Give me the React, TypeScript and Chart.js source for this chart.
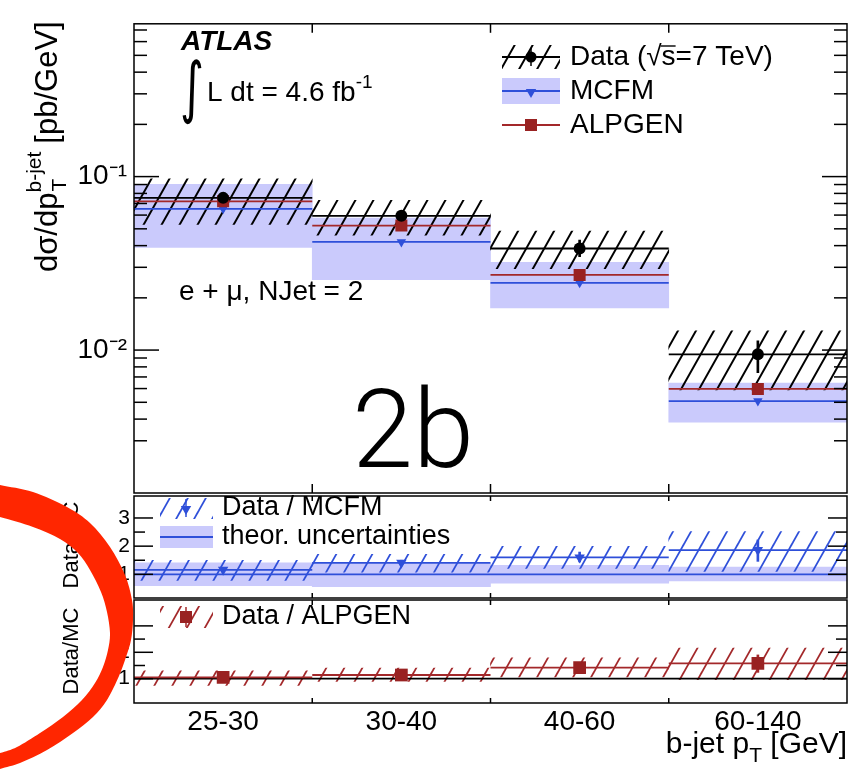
import React, { useEffect, useRef } from 'react';
import { Chart, registerables } from 'chart.js';
Chart.register(...registerables);

const FONT = '"Liberation Sans", Arial, Helvetica, sans-serif';
Chart.defaults.font.family = FONT;
Chart.defaults.color = '#000';

// ---------- data ----------
const categories = ['25-30', '30-40', '40-60', '60-140'];
const binCenters = [0.5, 1.5, 2.5, 3.5];
const binEdgesInner = [1, 2, 3];

// main panel: dσ/dpT [pb/GeV]
const dataCentral = [0.0754, 0.0594, 0.0385, 0.00945];
const dataStatLow = [0.071, 0.056, 0.0345, 0.0074];
const dataStatHigh = [0.08, 0.063, 0.043, 0.0113];
const dataSystLow = [0.053, 0.046, 0.0295, 0.0059];
const dataSystHigh = [0.097, 0.073, 0.0485, 0.0129];
const mcfmCentral = [0.0652, 0.042, 0.0244, 0.00508];
const mcfmLow = [0.039, 0.0255, 0.0175, 0.00384];
const mcfmHigh = [0.0901, 0.0577, 0.0321, 0.00646];
const alpgenCentral = [0.072, 0.0522, 0.0271, 0.00597];

// Data / MCFM panel
const rMcfm = [1.16, 1.41, 1.6, 1.86];
const rMcfmStatLow = [1.1, 1.33, 1.44, 1.46];
const rMcfmStatHigh = [1.24, 1.5, 1.79, 2.22];
const rMcfmSystLow = [0.78, 1.08, 1.21, 1.1];
const rMcfmSystHigh = [1.5, 1.71, 1.99, 2.52];
const theoCentral = [1, 1, 1, 1];
const theoLow = [0.6, 0.56, 0.69, 0.77];
const theoHigh = [1.41, 1.38, 1.32, 1.26];

// Data / ALPGEN panel
const rAlp = [1.05, 1.14, 1.42, 1.58];
const rAlpStatLow = [1.0, 1.08, 1.27, 1.24];
const rAlpStatHigh = [1.1, 1.21, 1.58, 1.9];
const rAlpSystLow = [0.75, 0.9, 1.07, 0.96];
const rAlpSystHigh = [1.3, 1.4, 1.79, 2.16];
const alpRef = [1, 1, 1, 1];

// tick labels
const mainTickValues = [0.01, 0.1];
const mainTickLabels = ['10⁻²', '10⁻¹'];
const ratioTickValues = [1, 2, 3];
const ratioTickLabels = ['1', '2', '3'];

// hand-drawn red ring annotation outline
const ringOuter: [number, number][] = [[-20, 480], [0, 485], [33, 492], [67, 507], [90, 523], [110, 547], [125, 575], [132, 600], [133, 620], [131, 640], [126, 657], [119, 676], [107, 700], [93, 717], [73, 733], [47, 750], [20, 763], [0, 769], [-20, 776]];
const ringInner: [number, number][] = [[-20, 757], [0, 753], [17, 747], [40, 733], [63, 717], [82, 700], [95, 683], [103, 667], [108, 650], [110, 633], [107, 612], [101, 592], [90, 570], [78, 553], [60, 539], [33, 527], [0, 517], [-20, 514]];

// ---------- styling ----------
const BLUE = '#2e4fd9';
const BAND = 'rgb(202,202,252)';
const RED = '#a3282a';
const REDMARK = '#992222';
const RING = 'rgb(255,38,0)';

function makeHatch(ctx: CanvasRenderingContext2D, color: string, lw: number) {
  const w = 18, h = 32;
  const c = document.createElement('canvas');
  c.width = w; c.height = h;
  const g = c.getContext('2d')!;
  g.strokeStyle = color; g.lineWidth = lw;
  for (let k = -1; k <= 1; k++) {
    g.beginPath(); g.moveTo(k * w - w, 2 * h); g.lineTo(k * w + 2 * w, -h); g.stroke();
  }
  return ctx.createPattern(c, 'repeat')!;
}

const band = (lo: number[], hi: number[]) => binCenters.map((x, i) => ({ x, y: [lo[i], hi[i]] }));
const steps = (v: number[]) => v.flatMap((y, i) => [{ x: i, y }, { x: i + 1, y }, { x: i + 1, y: null }]);
const pts = (v: number[]) => binCenters.map((x, i) => ({ x, y: v[i] }));

const bandDs = (lo: number[], hi: number[], bg: any, order: number) => ({
  type: 'bar', data: band(lo, hi), backgroundColor: bg, borderWidth: 0, grouped: false,
  barPercentage: 1, categoryPercentage: 1, order,
});
const errDs = (lo: number[], hi: number[], color: string, order: number) => ({
  type: 'bar', data: band(lo, hi), backgroundColor: color, borderWidth: 0, grouped: false,
  maxBarThickness: 2, barPercentage: 1, categoryPercentage: 1, order,
});
const lineDs = (v: number[], color: string, width: number, order: number) => ({
  type: 'line', data: steps(v), borderColor: color, borderWidth: width, pointRadius: 0,
  spanGaps: false, tension: 0, fill: false, order,
});
const markDs = (v: number[], style: string, color: string, radius: number, rotation: number, order: number) => ({
  type: 'line', data: pts(v), showLine: false, pointStyle: style, pointRadius: radius,
  pointBackgroundColor: color, pointBorderColor: color, pointBorderWidth: 0, pointRotation: rotation, order,
});

const xScale = (showLabels: boolean) => ({
  type: 'linear', min: 0, max: 4, offset: false,
  afterBuildTicks: (s: any) => { s.ticks = binCenters.map((v) => ({ value: v })); },
  ticks: {
    display: showLabels, autoSkip: false, maxRotation: 0, padding: 2, color: '#000',
    font: { size: 28, family: FONT },
    callback: (v: any) => categories[binCenters.indexOf(Number(v))] ?? '',
  },
  grid: { display: false, drawTicks: false },
  border: { display: false },
  afterFit: (s: any) => { s.height = showLabels ? 66 : 0; },
});

function tickLabel(values: number[], labels: string[]) {
  return (v: any) => {
    const n = Number(v);
    const i = values.findIndex((t) => Math.abs(t - n) < t * 1e-6);
    return i >= 0 ? labels[i] : '';
  };
}

function seg(ctx: CanvasRenderingContext2D, x1: number, y1: number, x2: number, y2: number) {
  ctx.beginPath(); ctx.moveTo(x1, y1); ctx.lineTo(x2, y2); ctx.stroke();
}

function framePlugin(kind: 'log' | 'ratio', xTickLen: number) {
  return {
    id: 'frame' + kind,
    afterDatasetsDraw(chart: any) {
      const { ctx, chartArea: { left, right, top, bottom }, scales: { x, y } } = chart;
      ctx.save();
      ctx.strokeStyle = '#000'; ctx.lineWidth = 1.5;
      y.ticks.forEach((t: any) => {
        const v = t.value;
        let len = 0;
        if (kind === 'log') {
          const e = Math.floor(Math.log10(v) + 1e-9);
          const m = v / Math.pow(10, e);
          if (Math.abs(m - Math.round(m)) > 1e-6) return;
          len = Math.round(m) === 1 ? 25 : 13;
        } else {
          if (Math.abs(v * 2 - Math.round(v * 2)) > 1e-6) return;
          len = Math.abs(v - Math.round(v)) < 1e-6 ? 19 : 11;
        }
        const py = y.getPixelForValue(v);
        if (py < top + 1 || py > bottom - 1) return;
        seg(ctx, left, py, left + len, py);
        seg(ctx, right - len, py, right, py);
      });
      binEdgesInner.forEach((e) => {
        const px = x.getPixelForValue(e);
        seg(ctx, px, top, px, top + xTickLen);
        seg(ctx, px, bottom - xTickLen, px, bottom);
      });
      ctx.strokeRect(left, top, right - left, bottom - top);
      ctx.restore();
    },
  };
}

function txt(ctx: CanvasRenderingContext2D, s: string, x: number, y: number, size: number, o: any = {}) {
  ctx.font = `${o.style || ''} ${o.weight || ''} ${size}px ${o.family || FONT}`;
  ctx.fillStyle = o.color || '#000';
  ctx.textAlign = o.align || 'left';
  ctx.textBaseline = o.baseline || 'alphabetic';
  ctx.fillText(s, x, y);
  return ctx.measureText(s).width;
}
function measure(ctx: CanvasRenderingContext2D, s: string, size: number) {
  ctx.font = `${size}px ${FONT}`;
  return ctx.measureText(s).width;
}
function triDown(ctx: CanvasRenderingContext2D, x: number, y: number, r: number, color: string) {
  ctx.fillStyle = color; ctx.beginPath();
  ctx.moveTo(x, y + r); ctx.lineTo(x - r * 0.866, y - r / 2); ctx.lineTo(x + r * 0.866, y - r / 2);
  ctx.closePath(); ctx.fill();
}
function square(ctx: CanvasRenderingContext2D, x: number, y: number, s: number, color: string) {
  ctx.fillStyle = color; ctx.fillRect(x - s / 2, y - s / 2, s, s);
}
function vline(ctx: CanvasRenderingContext2D, x: number, y1: number, y2: number, color: string, w = 1.5) {
  ctx.strokeStyle = color; ctx.lineWidth = w; seg(ctx, x, y1, x, y2);
}
function hline(ctx: CanvasRenderingContext2D, x1: number, x2: number, y: number, color: string, w = 1.8) {
  ctx.strokeStyle = color; ctx.lineWidth = w; seg(ctx, x1, y, x2, y);
}
function smooth(ctx: CanvasRenderingContext2D, p: [number, number][], first: boolean) {
  if (first) ctx.moveTo(p[0][0], p[0][1]); else ctx.lineTo(p[0][0], p[0][1]);
  for (let i = 0; i < p.length - 1; i++) {
    const p0 = p[i - 1] || p[i], p1 = p[i], p2 = p[i + 1], p3 = p[i + 2] || p2;
    ctx.bezierCurveTo(
      p1[0] + (p2[0] - p0[0]) / 6, p1[1] + (p2[1] - p0[1]) / 6,
      p2[0] - (p3[0] - p1[0]) / 6, p2[1] - (p3[1] - p1[1]) / 6,
      p2[0], p2[1]);
  }
}

function baseOptions(yScale: any, padTop: number, padBottom: number, showX: boolean) {
  return {
    responsive: false, animation: false, devicePixelRatio: 1, events: [],
    layout: { padding: { left: 0, right: 14, top: padTop, bottom: padBottom } },
    plugins: { legend: { display: false }, tooltip: { enabled: false }, title: { display: false } },
    scales: { x: xScale(showX), y: yScale },
  };
}

function mainConfig(ctx: CanvasRenderingContext2D): any {
  const hatch = makeHatch(ctx, '#000', 2);
  const annot = {
    id: 'mainAnnot',
    afterDraw(chart: any) {
      const c: CanvasRenderingContext2D = chart.ctx;
      c.save();
      // y title
      c.save();
      c.translate(57, 272); c.rotate(-Math.PI / 2);
      let xx = 0;
      xx += txt(c, 'dσ/dp', xx, 0, 31);
      const wSub = txt(c, 'T', xx + 1, 9, 21);
      const wSup = txt(c, 'b-jet', xx, -16, 21);
      xx += Math.max(wSub, wSup) + 8;
      txt(c, '[pb/GeV]', xx, 0, 31);
      c.restore();
      // ATLAS
      txt(c, 'ATLAS', 181, 50, 28, { style: 'italic', weight: 'bold' });
      c.save();
      c.translate(180, 110); c.scale(1, 1.45);
      txt(c, '∫', 0, 0, 46, { family: '"DejaVu Sans", sans-serif' });
      c.restore();
      const wl = txt(c, 'L dt = 4.6 fb', 207, 101, 28);
      txt(c, '-1', 207 + wl, 88, 19);
      txt(c, 'e + μ, NJet = 2', 179, 300, 28);
      // legend
      c.fillStyle = hatch; c.fillRect(502, 45, 58, 24);
      hline(c, 502, 560, 57, '#000');
      vline(c, 531, 48, 66, '#000');
      c.fillStyle = '#000'; c.beginPath(); c.arc(531, 57, 5.5, 0, Math.PI * 2); c.fill();
      txt(c, 'Data (√s=7 TeV)', 570, 57, 28, { baseline: 'middle' });
      const wa = measure(c, 'Data (√', 28), ws = measure(c, 's', 28);
      c.strokeStyle = '#000'; c.lineWidth = 1.4; seg(c, 570 + wa - 1, 46, 570 + wa + ws, 46);
      c.fillStyle = BAND; c.fillRect(502, 78, 58, 26);
      hline(c, 502, 560, 91, BLUE);
      triDown(c, 531, 92, 6, BLUE);
      txt(c, 'MCFM', 570, 91, 28, { baseline: 'middle' });
      hline(c, 502, 560, 125, RED);
      square(c, 531, 125, 12, REDMARK);
      txt(c, 'ALPGEN', 570, 125, 28, { baseline: 'middle' });
      c.restore();
    },
  };
  return {
    type: 'line',
    data: {
      datasets: [
        markDs(dataCentral, 'circle', '#000', 6, 0, 1),
        markDs(alpgenCentral, 'rect', REDMARK, 8.5, 0, 2),
        markDs(mcfmCentral, 'triangle', BLUE, 5.5, 180, 3),
        errDs(dataStatLow, dataStatHigh, '#000', 4),
        lineDs(dataCentral, '#000', 1.8, 6),
        lineDs(alpgenCentral, RED, 1.8, 7),
        lineDs(mcfmCentral, BLUE, 1.8, 8),
        bandDs(dataSystLow, dataSystHigh, hatch, 19),
        bandDs(mcfmLow, mcfmHigh, BAND, 20),
      ],
    },
    options: baseOptions({
      type: 'logarithmic', min: 0.0015, max: 0.76,
      afterFit: (s: any) => { s.width = 134; },
      ticks: { autoSkip: false, padding: 7, color: '#000', font: { size: 28, family: FONT }, callback: tickLabel(mainTickValues, mainTickLabels) },
      grid: { display: false, drawTicks: false },
      border: { display: false },
    }, 16, 276, false),
    plugins: [framePlugin('log', 9), annot],
  };
}

function ratioY(min: number, max: number) {
  return {
    type: 'linear', min, max,
    afterFit: (s: any) => { s.width = 134; },
    ticks: { stepSize: 0.5, autoSkip: false, padding: 4, color: '#000', font: { size: 21, family: FONT }, callback: tickLabel(ratioTickValues, ratioTickLabels) },
    grid: { display: false, drawTicks: false },
    border: { display: false },
  };
}

function midConfig(ctx: CanvasRenderingContext2D): any {
  const hatch = makeHatch(ctx, BLUE, 1.8);
  const annot = {
    id: 'midAnnot',
    afterDraw(chart: any) {
      const c: CanvasRenderingContext2D = chart.ctx;
      c.save();
      c.save(); c.translate(78, 545); c.rotate(-Math.PI / 2);
      txt(c, 'Data/MC', 0, 0, 22, { align: 'center' });
      c.restore();
      c.fillStyle = hatch; c.fillRect(160, 498, 53, 21);
      vline(c, 186, 499, 517, BLUE);
      triDown(c, 186, 509, 6, BLUE);
      txt(c, 'Data / MCFM', 222, 508, 27, { baseline: 'middle' });
      c.fillStyle = BAND; c.fillRect(160, 526, 53, 22);
      hline(c, 160, 213, 537, BLUE);
      txt(c, 'theor. uncertainties', 222, 537, 27, { baseline: 'middle' });
      c.restore();
    },
  };
  return {
    type: 'line',
    data: {
      datasets: [
        markDs(rMcfm, 'triangle', BLUE, 6, 180, 1),
        errDs(rMcfmStatLow, rMcfmStatHigh, BLUE, 3),
        lineDs(rMcfm, BLUE, 1.8, 6),
        lineDs(theoCentral, BLUE, 1.8, 7),
        bandDs(rMcfmSystLow, rMcfmSystHigh, hatch, 19),
        bandDs(theoLow, theoHigh, BAND, 20),
      ],
    },
    options: baseOptions(ratioY(0.16, 3.78), 496, 171, false),
    plugins: [framePlugin('ratio', 5), annot],
  };
}

function botConfig(ctx: CanvasRenderingContext2D): any {
  const hatch = makeHatch(ctx, RED, 1.8);
  const annot = {
    id: 'botAnnot',
    afterDraw(chart: any) {
      const c: CanvasRenderingContext2D = chart.ctx;
      c.save();
      c.save(); c.translate(78, 651); c.rotate(-Math.PI / 2);
      txt(c, 'Data/MC', 0, 0, 22, { align: 'center' });
      c.restore();
      c.fillStyle = hatch; c.fillRect(160, 606, 53, 22);
      vline(c, 186, 607, 627, RED);
      square(c, 186, 617, 12, REDMARK);
      txt(c, 'Data / ALPGEN', 222, 617, 27, { baseline: 'middle' });
      // x title
      const w1 = measure(c, 'b-jet p', 30), wT = measure(c, 'T', 21), w2 = measure(c, ' [GeV]', 30);
      const sx = 847 - (w1 + wT + w2);
      txt(c, 'b-jet p', sx, 753, 30);
      txt(c, 'T', sx + w1, 762, 21);
      txt(c, ' [GeV]', sx + w1 + wT, 753, 30);
      // big label
      txt(c, '2b', 352, 467, 110, { weight: '300', family: 'Roboto, "Liberation Sans", sans-serif' });
      // red ring
      c.beginPath();
      smooth(c, ringOuter, true);
      smooth(c, ringInner, false);
      c.closePath();
      c.fillStyle = RING;
      c.fill();
      c.restore();
    },
  };
  return {
    type: 'line',
    data: {
      datasets: [
        markDs(rAlp, 'rect', REDMARK, 9, 0, 1),
        errDs(rAlpStatLow, rAlpStatHigh, RED, 3),
        lineDs(rAlp, RED, 1.8, 6),
        lineDs(alpRef, '#000', 1.8, 7),
        bandDs(rAlpSystLow, rAlpSystHigh, hatch, 19),
      ],
    },
    options: baseOptions(ratioY(0.08, 3.98), 600, 0, true),
    plugins: [framePlugin('ratio', 5), annot],
  };
}

export default function App() {
  const r1 = useRef<HTMLCanvasElement>(null);
  const r2 = useRef<HTMLCanvasElement>(null);
  const r3 = useRef<HTMLCanvasElement>(null);
  useEffect(() => {
    const c1 = r1.current!, c2 = r2.current!, c3 = r3.current!;
    const charts = [
      new Chart(c1, mainConfig(c1.getContext('2d')!)),
      new Chart(c2, midConfig(c2.getContext('2d')!)),
      new Chart(c3, botConfig(c3.getContext('2d')!)),
    ];
    return () => charts.forEach((ch) => ch.destroy());
  }, []);
  const cs: React.CSSProperties = { position: 'absolute', left: 0, top: 0, width: 861, height: 769 };
  return (
    <div style={{ position: 'fixed', left: 0, top: 0, width: 861, height: 769, background: '#fff' }}>
      <canvas ref={r1} width={861} height={769} style={cs} />
      <canvas ref={r2} width={861} height={769} style={cs} />
      <canvas ref={r3} width={861} height={769} style={cs} />
    </div>
  );
}
